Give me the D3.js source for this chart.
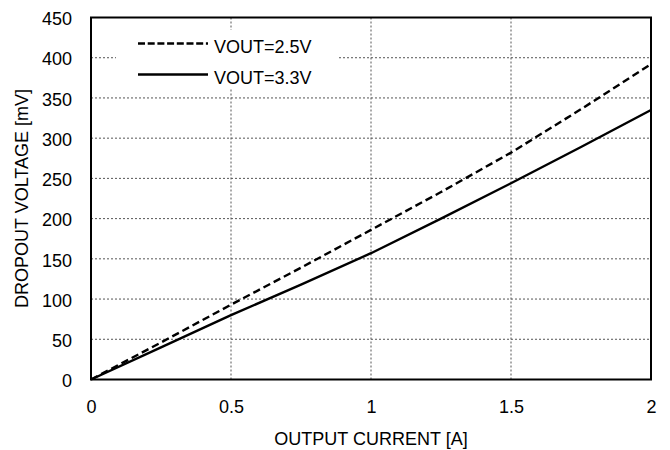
<!DOCTYPE html>
<html><head><meta charset="utf-8">
<script src="https://cdn.jsdelivr.net/npm/d3@7"></script>
<style>body{margin:0;background:#fff}svg{display:block;font-family:Arial,"Liberation Sans",sans-serif}</style>
</head><body>
<script>
const current = [0, 0.25, 0.5, 0.75, 1, 1.25, 1.5, 1.75, 2];
const vout25 = [0, 46, 93, 139, 186, 233, 282, 336, 392];
const vout33 = [0, 40, 80, 118, 157, 200, 244, 289, 335];
const xTicks = [0, 0.5, 1, 1.5, 2];
const yTicks = [0, 50, 100, 150, 200, 250, 300, 350, 400, 450];
const seriesNames = ["VOUT=2.5V", "VOUT=3.3V"];

const W = 670, H = 450, FS = 18;
const m = {l: 91, r: 19, t: 17.5, b: 70.5};
const svg = d3.select("body").append("svg").attr("width", W).attr("height", H);
const x = d3.scaleLinear().domain([0, 2]).range([m.l, W - m.r]);
const y = d3.scaleLinear().domain([0, 450]).range([H - m.b, m.t]);

// grid
svg.append("g").selectAll("line").data(yTicks.filter(d => d > 0 && d < 450)).join("line")
  .attr("x1", m.l).attr("x2", W - m.r).attr("y1", d => y(d)).attr("y2", d => y(d))
  .attr("stroke", "#555").attr("stroke-width", 1).attr("stroke-dasharray", "2,2");
svg.append("g").selectAll("line").data(xTicks.filter(d => d > 0 && d < 2)).join("line")
  .attr("y1", m.t).attr("y2", H - m.b).attr("x1", d => x(d)).attr("x2", d => x(d))
  .attr("stroke", "#555").attr("stroke-width", 1).attr("stroke-dasharray", "2,2");

// legend background
svg.append("rect").attr("x", 116).attr("y", 30).attr("width", 221).attr("height", 58).attr("fill", "#fff");

// axes labels
const xa = svg.append("g").attr("transform", `translate(0,${H - m.b})`)
  .call(d3.axisBottom(x).tickValues(xTicks).tickFormat(d3.format("")).tickSize(0).tickPadding(21));
xa.select(".domain").remove();
xa.selectAll("text").attr("font-size", FS).attr("fill", "#000").attr("dy", "0.71em")
  .attr("font-family", "Arial, 'Liberation Sans', sans-serif");
const ya = svg.append("g").attr("transform", `translate(${m.l},0)`)
  .call(d3.axisLeft(y).tickValues(yTicks).tickSize(0).tickPadding(19));
ya.select(".domain").remove();
ya.selectAll("text").attr("font-size", FS).attr("fill", "#000").attr("dy", "0.4em")
  .attr("font-family", "Arial, 'Liberation Sans', sans-serif");

// lines
const line = d3.line().x((d, i) => x(current[i])).y(d => y(d));
svg.append("path").attr("d", line(vout25)).attr("fill", "none").attr("stroke", "#000")
  .attr("stroke-width", 2.4).attr("stroke-dasharray", "7.5,4");
svg.append("path").attr("d", line(vout33)).attr("fill", "none").attr("stroke", "#000")
  .attr("stroke-width", 2.4);

// frame
svg.append("rect").attr("x", m.l).attr("y", m.t).attr("width", W - m.l - m.r).attr("height", H - m.t - m.b)
  .attr("fill", "none").attr("stroke", "#000").attr("stroke-width", 2);

// legend
const lg = [{dash: "7,2.7", y: 43.5}, {dash: null, y: 74.5}];
lg.forEach((d, i) => {
  svg.append("line").attr("x1", 138).attr("x2", 208).attr("y1", d.y).attr("y2", d.y)
    .attr("stroke", "#000").attr("stroke-width", 2.4).attr("stroke-dasharray", d.dash);
  svg.append("text").attr("x", 214).attr("y", d.y + 9).attr("font-size", FS).text(seriesNames[i]);
});

// titles
svg.append("text").attr("x", x(1)).attr("y", 445).attr("text-anchor", "middle").attr("font-size", FS).text("OUTPUT CURRENT [A]");
svg.append("text").attr("transform", `translate(28,${y(225)}) rotate(-90)`).attr("text-anchor", "middle").attr("font-size", FS).text("DROPOUT VOLTAGE [mV]");
</script>
</body></html>
